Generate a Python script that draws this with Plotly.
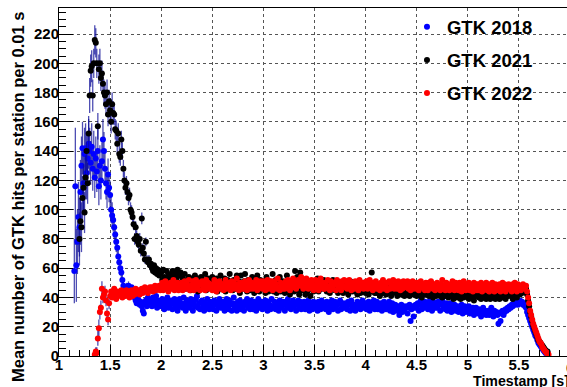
import numpy as np
import plotly.graph_objects as go

# ---------------- data (mean GTK hits per station per 0.01 s bin) ----------------
bin_width = 0.01
t_start_2018 = 1.15
t_start_2021 = 1.20
t_start_2022 = 1.35

gtk2018 = [
    58, 116, 62, 78, 95,
    88, 112, 130, 142, 118, 138, 142, 125, 135, 145,
    140, 132, 143, 128, 138, 122, 135, 126, 140, 116,
    130, 120, 133, 148, 140, 128, 118, 112, 124, 115,
    110, 100, 96, 93, 88, 83, 78, 74, 68, 64,
    60, 57, 52, 48, 46, 44, 47, 45, 48, 44,
    46, 47, 42, 45, 40, 38, 36, 40, 38, 35,
    37, 34, 31, 29, 36, 38, 34, 40, 37, 35,
    38, 34, 40, 35, 37, 41, 33, 38, 35, 37,
    34, 39, 36, 32, 38, 35, 40, 33, 37, 35,
    38, 32, 36, 39, 34, 37, 31, 36, 39, 34,
    36, 33, 40, 35, 31, 38, 34, 37, 33, 39,
    35, 31, 37, 34, 39, 41, 33, 36, 32, 37,
    38, 34, 31, 36, 33, 39, 35, 32, 37, 34,
    36, 32, 38, 35, 31, 37, 34, 39, 33, 36,
    33, 37, 31, 36, 39, 34, 32, 38, 35, 31,
    36, 40, 33, 35, 31, 37, 34, 38, 32, 36,
    34, 31, 37, 35, 39, 33, 36, 32, 38, 35,
    32, 37, 34, 31, 36, 39, 33, 35, 37, 32,
    36, 33, 38, 34, 31, 37, 35, 32, 39, 34,
    33, 37, 32, 36, 34, 31, 38, 35, 33, 37,
    35, 31, 37, 34, 39, 33, 36, 32, 35, 38,
    34, 36, 31, 35, 38, 33, 37, 32, 36, 34,
    37, 32, 35, 33, 38, 31, 36, 34, 32, 37,
    33, 36, 34, 31, 37, 35, 32, 38, 34, 36,
    35, 32, 37, 33, 30, 36, 34, 38, 32, 35,
    37, 33, 35, 31, 36, 38, 32, 34, 36, 33,
    34, 36, 32, 37, 35, 31, 38, 33, 35, 32,
    31, 35, 37, 33, 36, 32, 34, 38, 33, 35,
    36, 32, 34, 37, 31, 35, 33, 36, 38, 32,
    34, 37, 32, 35, 33, 36, 31, 34, 37, 33,
    32, 35, 33, 37, 31, 34, 36, 30, 33, 35,
    33, 31, 34, 28, 33, 35, 30, 34, 32, 33,
    34, 29, 33, 35, 24, 32, 34, 27, 33, 35,
    33, 36, 31, 35, 38, 32, 36, 33, 37, 34,
    36, 32, 35, 38, 34, 31, 37, 35, 33, 36,
    33, 37, 35, 31, 36, 38, 33, 35, 32, 36,
    31, 35, 33, 36, 30, 34, 32, 35, 31, 33,
    34, 30, 33, 31, 35, 29, 32, 34, 30, 33,
    31, 34, 29, 32, 30, 33, 28, 31, 33, 30,
    29, 32, 30, 27, 31, 33, 29, 31, 28, 30,
    31, 28, 30, 33, 29, 27, 31, 29, 30, 28,
    22, 29, 24, 30, 31, 28, 30, 32, 31, 33,
    32, 34, 33, 35, 34, 36, 35, 37, 36, 35,
    37, 38, 36, 37, 35, 36, 34, 33, 30, 28,
    26, 24, 22, 20, 18, 16, 14, 13, 11, 9,
    8, 7, 6, 5, 4, 3, 2, 3, 2,
]
err2018 = [
    22, 40, 25, 22, 24,
    20, 22, 20, 18, 20, 18, 17, 18, 16, 17,
    16, 15, 16, 15, 16, 14, 15, 14, 15, 13,
    14, 13, 13, 14, 13, 12, 11, 11, 11, 10,
    10, 9, 9, 8, 8, 7, 7, 6, 6, 5,
    5, 4, 4, 3, 3, 3, 3, 3, 3, 3,
]

gtk2021 = [
    80, 92, 88, 108, 115, 98, 122, 140, 118, 152,
    178, 195, 198, 178, 200, 216, 214, 200, 157, 196,
    200, 190, 193, 186, 180, 178, 172, 180, 165, 174,
    168, 160, 172, 166, 165, 155, 154, 145, 152, 138,
    136, 148, 140, 128, 120, 115, 118, 112, 108, 110,
    100, 98, 95, 90, 80, 88, 82, 78, 76, 80,
    72, 94, 74, 70, 66, 78, 66, 64, 66, 62,
    63, 60, 58, 62, 57, 60, 56, 59, 55, 58,
    57, 52, 59, 54, 50, 58, 53, 56, 51, 55,
    52, 58, 54, 49, 56, 53, 59, 50, 55, 57,
    48, 53, 50, 56, 46, 52, 49, 54, 51, 45,
    53, 49, 46, 55, 51, 48, 44, 53, 50, 54,
    47, 52, 49, 56, 45, 50, 53, 47, 52, 49,
    54, 46, 51, 48, 53, 44, 52, 49, 55, 46,
    50, 47, 53, 44, 49, 52, 46, 56, 48, 51,
    45, 52, 49, 46, 55, 47, 51, 43, 55, 49,
    46, 51, 56, 47, 44, 52, 49, 45, 50, 54,
    47, 43, 51, 46, 55, 49, 44, 52, 47, 50,
    46, 50, 43, 54, 48, 44, 51, 46, 49, 56,
    44, 48, 52, 43, 50, 46, 54, 44, 48, 51,
    46, 43, 49, 55, 45, 48, 42, 51, 46, 49,
    44, 58, 45, 54, 47, 42, 57, 45, 52, 48,
    45, 42, 49, 44, 51, 46, 41, 47, 49, 44,
    50, 45, 49, 53, 44, 48, 51, 46, 49, 52,
    46, 50, 44, 51, 48, 43, 50, 46, 52, 47,
    45, 49, 51, 43, 47, 50, 45, 48, 43, 47,
    50, 45, 48, 42, 47, 51, 45, 44, 49, 46,
    44, 48, 42, 49, 46, 43, 48, 44, 50, 45,
    43, 48, 45, 42, 49, 46, 57, 44, 48, 43,
    47, 43, 48, 45, 41, 46, 49, 43, 47, 44,
    42, 47, 43, 48, 45, 41, 47, 43, 45, 48,
    44, 41, 47, 45, 42, 48, 43, 46, 41, 45,
    47, 42, 45, 41, 48, 44, 46, 42, 45, 43,
    41, 46, 43, 47, 44, 40, 45, 42, 48, 44,
    42, 46, 41, 44, 47, 43, 40, 45, 44, 41,
    46, 42, 47, 41, 44, 40, 46, 43, 41, 45,
    43, 40, 45, 41, 46, 43, 39, 45, 41, 43,
    40, 45, 42, 39, 44, 46, 40, 43, 41, 45,
    42, 39, 44, 40, 45, 42, 38, 44, 41, 42,
    45, 40, 43, 39, 42, 45, 40, 44, 39, 42,
    40, 44, 39, 42, 45, 40, 43, 39, 42, 41,
    44, 39, 42, 45, 40, 43, 42, 39, 44, 42,
    41, 44, 42, 45, 39, 43, 42, 45, 40, 43,
    44, 42, 45, 43, 44, 45, 44, 46, 42, 38,
    34, 30, 27, 24, 21, 19, 17, 15, 13, 11,
    10, 9, 8, 7, 6, 5, 4, 3, 3,
]
err2021 = [
    18, 16, 17, 15, 16, 14, 15, 13, 14, 12,
    12, 11, 11, 11, 10, 10, 10, 10, 9, 10,
    10, 9, 9, 9, 9, 9, 8, 9, 8, 8,
    8, 8, 8, 8, 7, 7, 7, 7, 7, 6,
    6, 6, 6, 6, 6, 5, 5, 5, 5, 5,
    5, 5, 5, 4, 4, 4, 4, 4, 4, 4,
    4, 4, 3, 3, 3, 3, 3, 3, 3, 3,
]

gtk2022 = [
    1, 3, 2, 12, 19,
    30, 33, 46, 40, 42, 44, 38, 29, 25, 36,
    41, 44, 40, 43, 46, 42, 39, 44, 41, 43,
    42, 45, 40, 43, 44, 41, 45, 42, 44, 40,
    43, 45, 41, 44, 42, 46, 43, 44, 45, 42,
    44, 46, 43, 45, 47, 44, 46, 43, 45, 47,
    45, 47, 44, 46, 48, 45, 47, 46, 48, 45,
    47, 50, 45, 48, 51, 46, 49, 44, 48, 50,
    46, 49, 52, 45, 48, 47, 50, 45, 49, 47,
    50, 45, 48, 51, 46, 49, 47, 52, 45, 48,
    47, 51, 45, 49, 52, 46, 48, 50, 45, 49,
    51, 46, 49, 45, 52, 48, 50, 46, 49, 47,
    45, 49, 52, 47, 44, 50, 48, 51, 46, 49,
    49, 45, 48, 52, 46, 50, 47, 49, 45, 51,
    47, 50, 46, 49, 53, 47, 45, 50, 48, 46,
    50, 46, 51, 48, 45, 49, 52, 46, 48, 50,
    46, 49, 47, 52, 45, 50, 47, 51, 48, 46,
    51, 47, 45, 49, 52, 46, 50, 48, 51, 45,
    48, 51, 49, 46, 53, 47, 45, 50, 48, 46,
    49, 46, 51, 47, 52, 49, 45, 48, 51, 53,
    47, 50, 46, 49, 52, 48, 51, 54, 48, 46,
    51, 47, 53, 49, 46, 50, 47, 52, 49, 45,
    48, 52, 47, 50, 45, 49, 53, 47, 50, 46,
    46, 50, 48, 52, 47, 45, 51, 49, 46, 50,
    49, 45, 52, 48, 50, 47, 45, 51, 48, 52,
    47, 51, 46, 49, 52, 48, 45, 50, 49, 46,
    51, 47, 49, 45, 52, 49, 47, 50, 46, 49,
    48, 51, 46, 49, 52, 47, 50, 45, 49, 48,
    51, 46, 49, 48, 45, 50, 47, 52, 46, 50,
    47, 45, 50, 51, 46, 49, 47, 52, 46, 48,
    50, 46, 51, 48, 45, 49, 46, 51, 48, 47,
    48, 51, 46, 49, 45, 48, 51, 46, 50, 48,
    46, 50, 45, 48, 51, 47, 49, 48, 45, 50,
    48, 45, 50, 47, 51, 48, 46, 49, 45, 48,
    50, 46, 48, 45, 49, 52, 46, 48, 45, 50,
    46, 49, 45, 48, 47, 51, 48, 45, 50, 47,
    48, 45, 50, 47, 44, 49, 51, 46, 45, 49,
    47, 50, 45, 48, 46, 44, 50, 47, 49, 45,
    49, 45, 47, 50, 44, 48, 46, 47, 50, 45,
    47, 44, 49, 46, 50, 47, 44, 49, 46, 48,
    45, 49, 44, 47, 50, 46, 49, 44, 48, 46,
    49, 46, 47, 44, 49, 46, 50, 48, 44, 49,
    46, 48, 45, 47, 49, 47, 46, 48, 44, 40,
    36, 31, 28, 25, 22, 20, 18, 16, 14, 12,
    10, 9, 8, 6, 5, 4, 3, 2, 2, 1,
]
err2022 = [3, 3, 4, 5, 6, 5, 5, 5, 4, 4, 4, 4, 4, 4, 4]

series_names = ["GTK 2018", "GTK 2021", "GTK 2022"]
series_colors = ["#0000ff", "#000000", "#ff0000"]

x_ticks = [1, 1.5, 2, 2.5, 3, 3.5, 4, 4.5, 5, 5.5, 6]
y_ticks = list(range(0, 240, 20))


def bins(t0, n):
    return np.round(t0 + bin_width * np.arange(n), 3)


def errs(e, n):
    return list(e) + [None] * (n - len(e))


FONT = "Liberation Sans, Arial, Helvetica, sans-serif"
ERR_COLOR = "rgba(10,10,150,0.72)"

fig = go.Figure()
for name, col, t0, vals, e in zip(
    series_names, series_colors,
    [t_start_2018, t_start_2021, t_start_2022],
    [gtk2018, gtk2021, gtk2022],
    [err2018, err2021, err2022],
):
    fig.add_trace(go.Scatter(
        x=bins(t0, len(vals)), y=vals, mode="markers", name=name,
        legendgroup=name,
        marker=dict(symbol="circle", size=6, color=col, line=dict(width=0)),
        error_y=dict(type="data", array=errs(e, len(vals)), visible=True,
                     color=ERR_COLOR, thickness=1.3, width=0),
        cliponaxis=True,
    ))

W, H = 567, 387
L, R, T, B = 59, 0, 8, 31
x_max = 1 + (W - L - R) / 102.2

axis_common = dict(
    showline=True, linecolor="black", linewidth=1, mirror=True,
    ticks="inside", tickcolor="black", tickwidth=1,
    showgrid=True, gridcolor="#555555", griddash="dot", gridwidth=1,
    zeroline=False, automargin=False,
    tickfont=dict(family=FONT, size=15, color="black", weight="bold"),
)

fig.update_layout(
    width=W, height=H,
    margin=dict(l=L, r=R, t=T, b=B),
    paper_bgcolor="white", plot_bgcolor="white",
    showlegend=True,
    legend=dict(
        x=0.685, y=0.999, xanchor="left", yanchor="top",
        bgcolor="rgba(0,0,0,0)", borderwidth=0,
        font=dict(family=FONT, size=18.5, color="black", weight="bold"),
        traceorder="grouped", tracegroupgap=6,
    ),
    xaxis=dict(
        range=[1, x_max], tickvals=x_ticks, ticklen=11,
        ticklabelstandoff=-5,
        minor=dict(ticks="inside", ticklen=6, dtick=0.1, tick0=1,
                   tickcolor="black", showgrid=False),
        **axis_common,
    ),
    yaxis=dict(
        range=[0, 237.8], tickvals=y_ticks, ticklen=14,
        ticklabelstandoff=-4,
        minor=dict(ticks="inside", ticklen=7, dtick=5, tick0=0,
                   tickcolor="black", showgrid=False),
        **axis_common,
    ),
)

plot_w = W - L - R
plot_h = H - T - B
fig.add_annotation(
    text="Mean number of GTK hits per station per 0.01 s",
    xref="paper", yref="paper", x=(18 - L) / plot_w, y=1 + (T - 10) / plot_h,
    xanchor="center", yanchor="top", textangle=-90, showarrow=False,
    font=dict(family=FONT, size=16.5, color="black", weight="bold"),
)
fig.add_annotation(
    text="Timestamp [s]",
    xref="paper", yref="paper", x=(571 - L) / plot_w, y=(356 - 381) / plot_h,
    xanchor="right", yanchor="middle", showarrow=False,
    font=dict(family=FONT, size=14.2, color="black", weight="bold"),
)
fig.add_annotation(
    text="6",
    xref="paper", yref="paper", x=(570 - L) / plot_w, y=(356 - 367) / plot_h,
    xanchor="center", yanchor="middle", showarrow=False,
    font=dict(family=FONT, size=15, color="black", weight="bold"),
)

fig.write_html(
    "out.html",
    config={"displayModeBar": False},
    post_script="document.body.style.margin='0';document.body.style.overflow='hidden';",
)
